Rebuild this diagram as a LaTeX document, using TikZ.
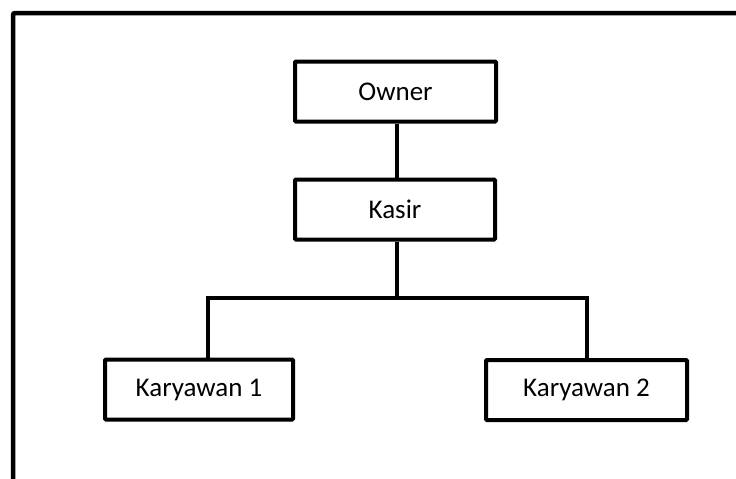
\documentclass[tikz,border=0pt]{standalone}
\usepackage{fontspec}
\setmainfont{Carlito}
\usepackage{tikz}
\usetikzlibrary{positioning, calc}

\tikzset{
  jabatan/.style={draw=black, line width=4pt, rounded corners=1pt, fill=white,
    minimum height=60pt, inner sep=0pt, font=\fontsize{27}{32}\selectfont},
  garis/.style={draw=black, line width=4pt},
}

\begin{document}
\begin{tikzpicture}[x=1pt, y=-1pt]
  \useasboundingbox (0, 0) rectangle (736, 479);
  \clip (0, 0) rectangle (736, 479);
  \draw[line width=4.5pt, rounded corners=2pt] (13, 13) rectangle (760, 500);

  \node[jabatan, minimum width=201pt] (owner) at (395.5, 91.5) {Owner};
  \node[jabatan, minimum width=200pt] (kasir) at (395, 209.5) {Kasir};
  \node[jabatan, minimum width=188pt] (karyawan1) at (199, 389.5) {Karyawan 1};
  \node[jabatan, minimum width=201pt] (karyawan2) at (586.5, 390) {Karyawan 2};

  \coordinate (cabang) at (397, 298);

  \draw[garis] ([xshift=1.5pt]owner.south) -- ([xshift=2pt]kasir.north);
  \draw[garis] ([xshift=2pt]kasir.south) -- (cabang);
  \draw[garis] ([xshift=9pt]karyawan1.north) |- (cabang) -| (karyawan2.north);
\end{tikzpicture}
\end{document}
